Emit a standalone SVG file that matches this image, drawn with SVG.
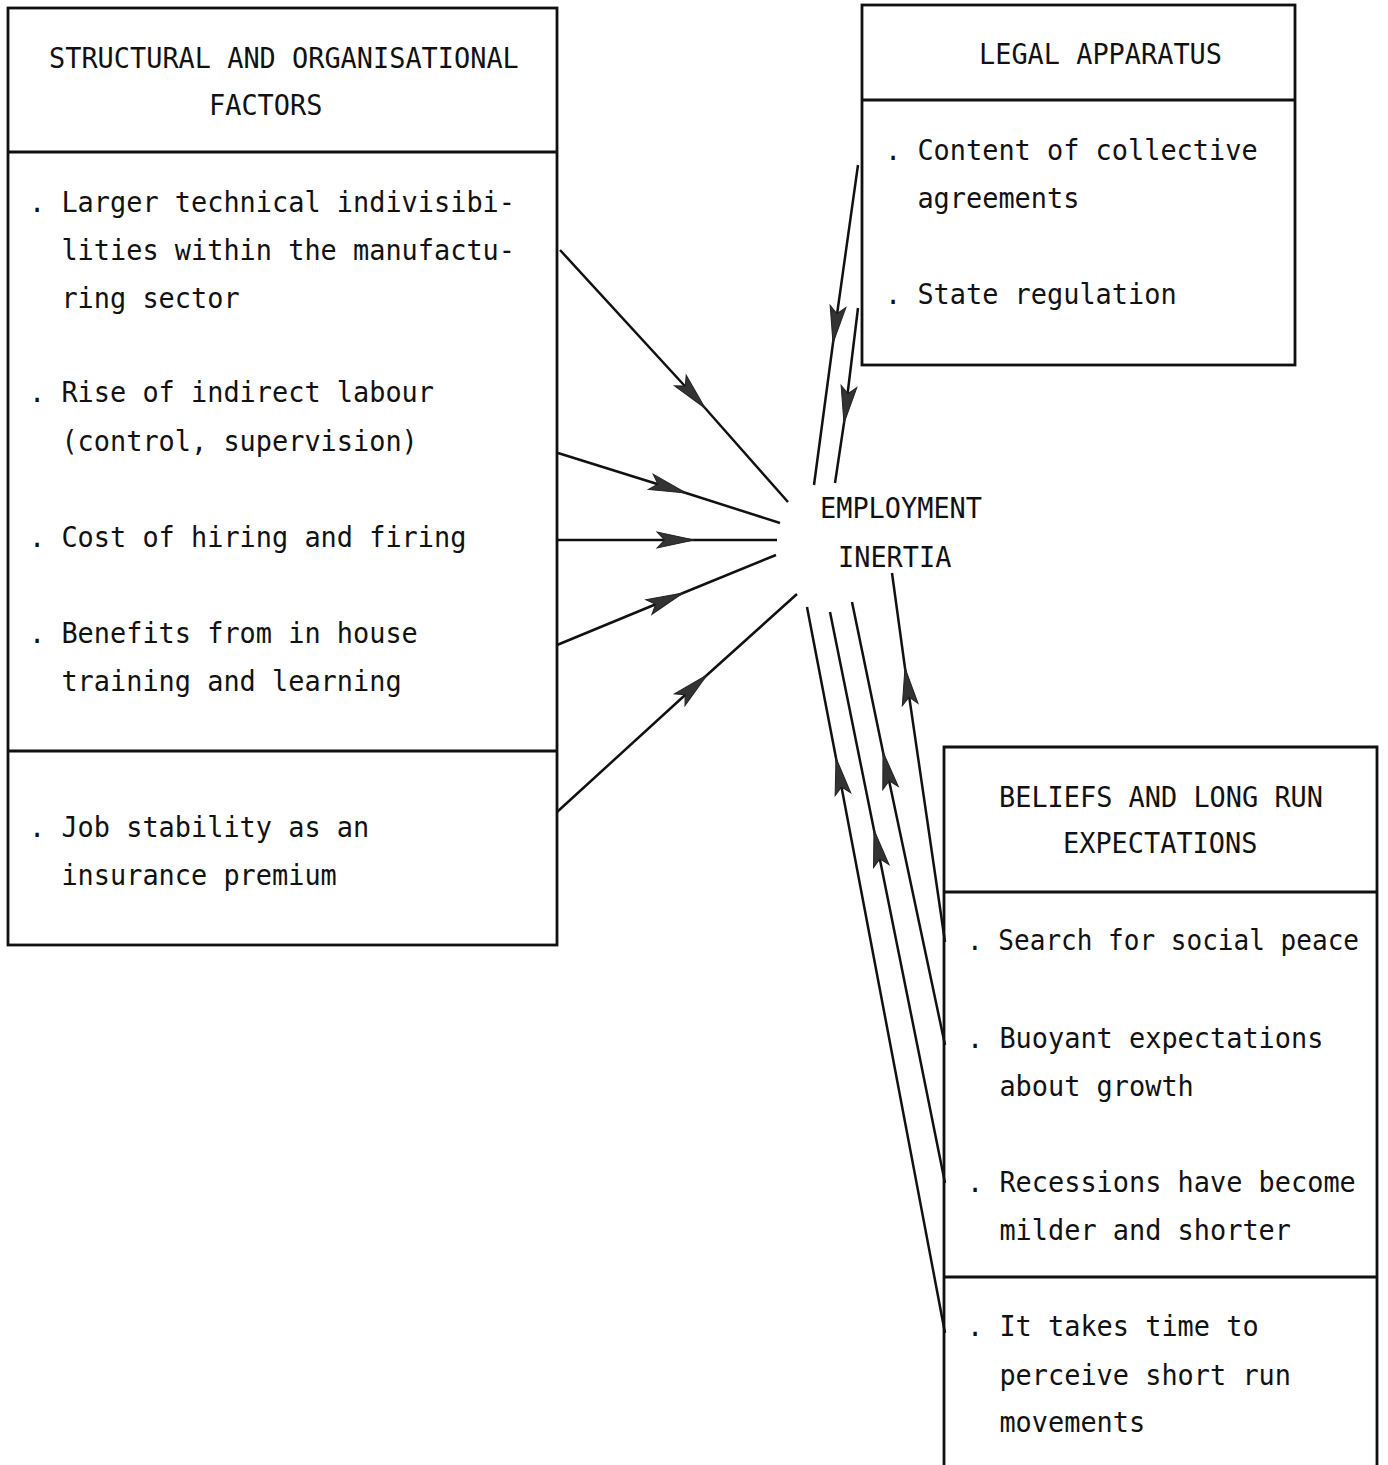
<svg xmlns="http://www.w3.org/2000/svg" width="1388" height="1465" viewBox="0 0 1388 1465">
  <style>
    .box { fill: none; stroke: #111; stroke-width: 2.8; }
    .t { font-family: "DejaVu Sans Mono", "Liberation Mono", monospace; font-size: 29px; fill: #111; }
    .link { fill: none; stroke: #111; stroke-width: 2.5; marker-mid: url(#dart); }
  </style>
  <defs>
    <!-- dart-shaped arrowhead placed at the middle vertex of each connector -->
    <marker id="dart" markerUnits="userSpaceOnUse" markerWidth="40" markerHeight="20" viewBox="-36 -9 38 18" refX="0" refY="0" orient="auto" overflow="visible">
      <polygon points="0,0 -35,-7.5 -28,0 -35,7.5" fill="#333" stroke="#222" stroke-width="1"/>
    </marker>
  </defs>
  <rect width="1388" height="1465" fill="#fff"/>

  <g id="structural-factors">
    <rect class="box" x="8" y="8" width="549" height="937"/>
    <line class="box" x1="8" y1="152" x2="557" y2="152"/>
    <line class="box" x1="8" y1="751" x2="557" y2="751"/>
    <text class="t" x="49" y="68" textLength="469.8" lengthAdjust="spacingAndGlyphs">STRUCTURAL AND ORGANISATIONAL</text>
    <text class="t" x="209" y="115" textLength="113.4" lengthAdjust="spacingAndGlyphs">FACTORS</text>
    <text class="t" x="29" y="212" textLength="486" lengthAdjust="spacingAndGlyphs">. Larger technical indivisibi-</text>
    <text class="t" x="61.4" y="260" textLength="453.6" lengthAdjust="spacingAndGlyphs">lities within the manufactu-</text>
    <text class="t" x="61.4" y="308" textLength="178.2" lengthAdjust="spacingAndGlyphs">ring sector</text>
    <text class="t" x="29" y="402" textLength="405" lengthAdjust="spacingAndGlyphs">. Rise of indirect labour</text>
    <text class="t" x="61.4" y="451" textLength="356.4" lengthAdjust="spacingAndGlyphs">(control, supervision)</text>
    <text class="t" x="29" y="547" textLength="437.4" lengthAdjust="spacingAndGlyphs">. Cost of hiring and firing</text>
    <text class="t" x="29" y="643" textLength="388.8" lengthAdjust="spacingAndGlyphs">. Benefits from in house</text>
    <text class="t" x="61.4" y="691" textLength="340.2" lengthAdjust="spacingAndGlyphs">training and learning</text>
    <text class="t" x="29" y="837" textLength="340.2" lengthAdjust="spacingAndGlyphs">. Job stability as an</text>
    <text class="t" x="61.4" y="885" textLength="275.4" lengthAdjust="spacingAndGlyphs">insurance premium</text>
  </g>

  <g id="legal-apparatus">
    <rect class="box" x="862" y="5" width="433" height="360"/>
    <line class="box" x1="862" y1="100" x2="1295" y2="100"/>
    <text class="t" x="979" y="64" textLength="243" lengthAdjust="spacingAndGlyphs">LEGAL APPARATUS</text>
    <text class="t" x="885" y="160" textLength="372.6" lengthAdjust="spacingAndGlyphs">. Content of collective</text>
    <text class="t" x="917.4" y="208" textLength="162" lengthAdjust="spacingAndGlyphs">agreements</text>
    <text class="t" x="885" y="304" textLength="291.6" lengthAdjust="spacingAndGlyphs">. State regulation</text>
  </g>

  <g id="employment-inertia">
    <text class="t" x="820" y="518" textLength="162" lengthAdjust="spacingAndGlyphs">EMPLOYMENT</text>
    <text class="t" x="838" y="567" textLength="113.4" lengthAdjust="spacingAndGlyphs">INERTIA</text>
  </g>

  <g id="beliefs-expectations">
    <path class="box" d="M944,1470 V747 H1377 V1470"/>
    <line class="box" x1="944" y1="892" x2="1377" y2="892"/>
    <line class="box" x1="944" y1="1277" x2="1377" y2="1277"/>
    <text class="t" x="999" y="807" textLength="324" lengthAdjust="spacingAndGlyphs">BELIEFS AND LONG RUN</text>
    <text class="t" x="1063" y="853" textLength="194.4" lengthAdjust="spacingAndGlyphs">EXPECTATIONS</text>
    <text class="t" x="967" y="950" font-size="26.5" textLength="392" lengthAdjust="spacingAndGlyphs">. Search for social peace</text>
    <text class="t" x="967" y="1048" textLength="356.4" lengthAdjust="spacingAndGlyphs">. Buoyant expectations</text>
    <text class="t" x="999.4" y="1096" textLength="194.4" lengthAdjust="spacingAndGlyphs">about growth</text>
    <text class="t" x="967" y="1192" textLength="388.8" lengthAdjust="spacingAndGlyphs">. Recessions have become</text>
    <text class="t" x="999.4" y="1240" textLength="291.6" lengthAdjust="spacingAndGlyphs">milder and shorter</text>
    <text class="t" x="967" y="1336" textLength="291.6" lengthAdjust="spacingAndGlyphs">. It takes time to</text>
    <text class="t" x="999.4" y="1385" textLength="291.6" lengthAdjust="spacingAndGlyphs">perceive short run</text>
    <text class="t" x="999.4" y="1432" textLength="145.8" lengthAdjust="spacingAndGlyphs">movements</text>
  </g>

  <g id="connectors">
    <!-- structural and organisational factors into employment inertia -->
    <path class="link" d="M560,250 L705,408 L788,502"/>
    <path class="link" d="M558,453 L686,493 L780,523"/>
    <path class="link" d="M558,540 L694,540 L777,540"/>
    <path class="link" d="M557,645 L683,593 L776,555"/>
    <path class="link" d="M557,812 L707,675 L797,594"/>
    <!-- legal apparatus into employment inertia -->
    <path class="link" d="M858,165 L833,343 L814,485"/>
    <path class="link" d="M858,308 L844,423 L835,483"/>
    <!-- beliefs and expectations into employment inertia -->
    <path class="link" d="M945,942 L905,668 L892,573"/>
    <path class="link" d="M945,1045 L883,752 L852,602"/>
    <path class="link" d="M945,1183 L874,830 L830,612"/>
    <path class="link" d="M945,1333 L836,758 L807,607"/>
  </g>
</svg>
